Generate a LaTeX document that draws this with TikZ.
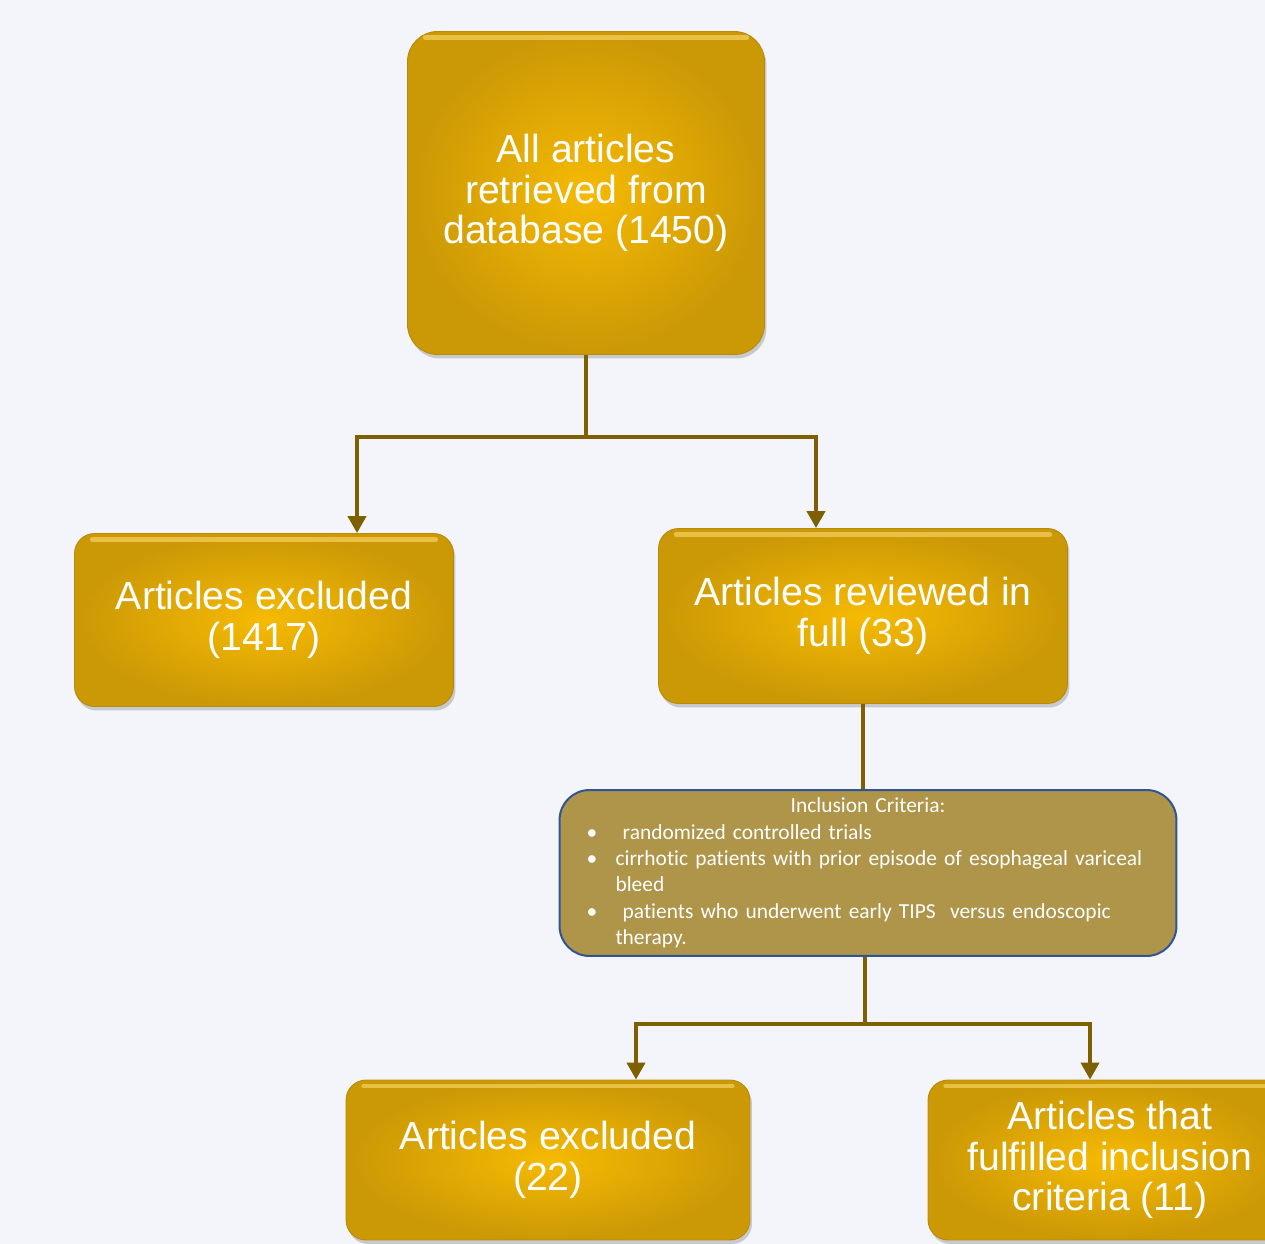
\documentclass[tikz,border=0pt]{standalone}
\usepackage{fontspec}
\newfontfamily\boxfont{Liberation Sans}
\newfontfamily\critfont[Ligatures=NoCommon]{Carlito}
\usepackage{tikz}
\usetikzlibrary{
  arrows.meta,
  positioning,
  shadows,
  calc
}
\definecolor{pagebg}{HTML}{F3F5FA}
\definecolor{goldin}{HTML}{F6BA02}
\definecolor{goldout}{HTML}{CB9806}
\definecolor{goldedge}{HTML}{B88A0A}
\definecolor{goldhi}{HTML}{FFE27A}
\definecolor{linkcolor}{HTML}{7F6000}
\definecolor{critfill}{HTML}{AF954A}
\definecolor{critedge}{HTML}{2F5597}
\newcommand{\bul}{\makebox[0.58cm][l]{\textbullet}}

\begin{document}
\begin{tikzpicture}[
  x=0.02cm, y=-0.02cm,
  goldbox/.style={rounded corners=0.4cm, draw=goldedge, line width=0.5pt,
    shading=radial, inner color=goldin, outer color=goldout,
    text=white, font=\boxfont\fontsize{22.3}{23.2}\selectfont, align=center, inner sep=0pt,
    drop shadow={shadow xshift=0.04cm, shadow yshift=-0.08cm, opacity=0.3, fill=black!60},
    path picture={\draw[goldhi, line width=0.09cm, opacity=0.55, line cap=round]
      ([xshift=0.35cm, yshift=-0.12cm]path picture bounding box.north west) --
      ([xshift=-0.35cm, yshift=-0.12cm]path picture bounding box.north east);}},
  critbox/.style={rounded corners=0.6cm, draw=critedge, line width=0.04cm, fill=critfill,
    text=white, font=\critfont\fontsize{12.2}{15}\selectfont,
    text width=11.26cm, align=left, inner sep=0pt},
  link/.style={draw=linkcolor, line width=0.08cm},
  arrow/.style={link, -{Triangle[width=0.36cm, length=0.34cm]}},
]
  \fill[pagebg] (0,0) rectangle (1265,1244);
  \useasboundingbox (0,0) rectangle (1265,1244);

  % Boxes
  \node[goldbox, minimum width=7.14cm, minimum height=6.46cm, rounded corners=0.6cm] (all) at (586,193)
    {All articles\\retrieved from\\database (1450)};
  \node[goldbox, minimum width=7.58cm, minimum height=3.46cm] (excl1) at (264,620)
    {Articles excluded\\(1417)};
  \node[goldbox, minimum width=8.18cm, minimum height=3.5cm] (full) at (863,616)
    {Articles reviewed in\\full (33)};
  \node[critbox, minimum width=12.34cm, minimum height=3.32cm] (crit) at (868,873)
    {\makebox[11.26cm]{Inclusion Criteria:}\\
     \bul\ randomized controlled trials\\
     \bul cirrhotic patients with prior episode of esophageal variceal\\
     \hspace*{0.58cm}bleed\\
     \bul\ patients who underwent early TIPS\ \ versus endoscopic\\
     \hspace*{0.58cm}therapy.};
  \node[goldbox, minimum width=8.08cm, minimum height=3.2cm] (excl2) at (548,1160)
    {Articles excluded\\(22)};
  \node[goldbox, minimum width=7.28cm, minimum height=3.2cm] (incl) at (1110,1160)
    {Articles that\\fulfilled inclusion\\criteria (11)};

  % Connectors
  \coordinate (split1) at (586,437);
  \coordinate (leftcol1) at (357,437);
  \coordinate (rightcol1) at (816,437);
  \draw[link] (all.south) -- (split1);
  \draw[arrow] (split1) -| (leftcol1 |- excl1.north);
  \draw[arrow] (split1) -| (rightcol1 |- full.north);

  \draw[link] (full.south) -- (full.south |- crit.north);

  \coordinate (split2) at (865,1024);
  \coordinate (leftcol2) at (636,1024);
  \coordinate (rightcol2) at (1090,1024);
  \draw[link] (split2 |- crit.south) -- (split2);
  \draw[arrow] (split2) -| (leftcol2 |- excl2.north);
  \draw[arrow] (split2) -| (rightcol2 |- incl.north);
\end{tikzpicture}
\end{document}
